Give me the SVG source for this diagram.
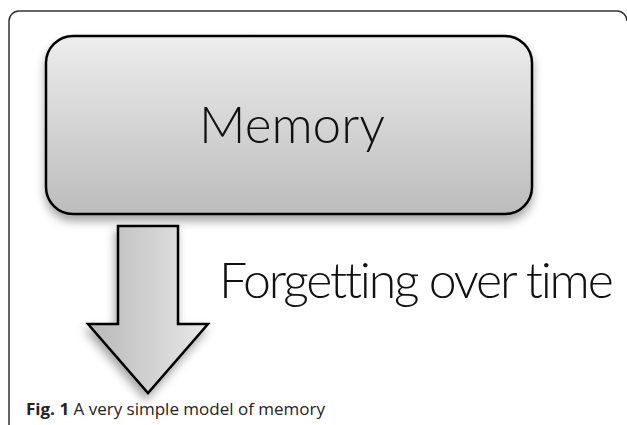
<svg xmlns="http://www.w3.org/2000/svg" width="627" height="425" viewBox="0 0 627 425">
<defs>
<linearGradient id="boxGrad" x1="0" y1="0" x2="0" y2="1">
<stop offset="0" stop-color="#ededed"/>
<stop offset="1" stop-color="#bcbcbc"/>
</linearGradient>
<linearGradient id="arrowGrad" x1="0" y1="0" x2="1" y2="0">
<stop offset="0" stop-color="#b8b8b8"/>
<stop offset="1" stop-color="#e8e8e8"/>
</linearGradient>
<filter id="shadow" x="-20%" y="-20%" width="140%" height="150%">
<feDropShadow dx="0" dy="6" stdDeviation="5" flood-color="#000" flood-opacity="0.35"/>
</filter>
<filter id="shadowA" x="-30%" y="-20%" width="160%" height="150%">
<feDropShadow dx="-2" dy="6" stdDeviation="5" flood-color="#000" flood-opacity="0.35"/>
</filter>
</defs>
<style>
.frame{fill:none;stroke:#333;stroke-width:1.5}
.big{font-family:Lato,"Open Sans",sans-serif;font-weight:300;fill:#111;font-variant-ligatures:none}
.cap{font-family:"Open Sans","Noto Sans",sans-serif;font-size:16px;fill:#222}
</style>
<rect x="0" y="0" width="627" height="425" fill="#fff"/>
<path class="frame" d="M9,426 V21 A10,10 0 0 1 19,11 H617 A10,10 0 0 1 627,21"/>
<g id="memory">
<rect x="46" y="36" width="486" height="178" rx="27" fill="url(#boxGrad)" stroke="#000" stroke-width="2.5" filter="url(#shadow)"/>
<text class="big" x="292" y="143" font-size="52" text-anchor="middle" textLength="186" lengthAdjust="spacingAndGlyphs">Memory</text>
</g>
<g id="connectors">
<path d="M118,226 L178,226 L178,324 L208,324 L148,393 L88,324 L118,324 Z" fill="url(#arrowGrad)" stroke="#000" stroke-width="2.5" stroke-linejoin="miter" filter="url(#shadowA)"/>
</g>
<g id="label">
<text class="big" x="219" y="298" font-size="50" letter-spacing="-2.2">Forgetting over time</text>
</g>
<g id="caption">
<text class="cap" x="26" y="415" textLength="299" lengthAdjust="spacingAndGlyphs"><tspan font-weight="bold">Fig. 1</tspan> A very simple model of memory</text>
</g>
</svg>
